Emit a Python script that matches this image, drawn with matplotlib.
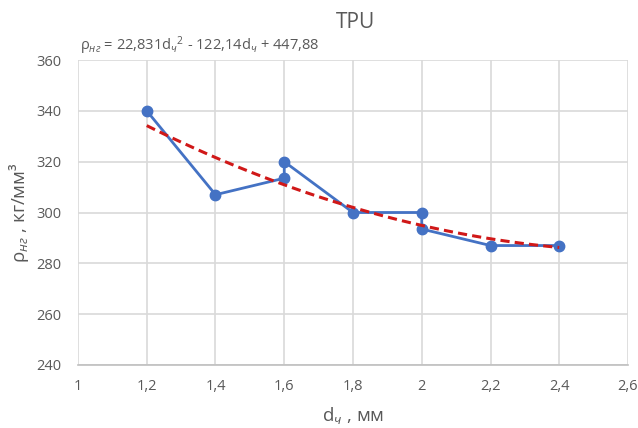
import matplotlib
matplotlib.use("Agg")
import matplotlib.pyplot as plt
import numpy as np

# data (path order as drawn)
d_vals = [1.2, 1.4, 1.6, 1.6, 1.8, 2.0, 2.0, 2.2, 2.4]
rho_vals = [340, 307, 313.5, 320, 300, 300, 293.5, 287, 287]
# trendline coefficients shown on chart
trend_coef = [22.831, -122.14, 447.88]
x_ticks = [1, 1.2, 1.4, 1.6, 1.8, 2, 2.2, 2.4, 2.6]
x_ticklabels = ["1", "1,2", "1,4", "1,6", "1,8", "2", "2,2", "2,4", "2,6"]
y_ticks = [240, 260, 280, 300, 320, 340, 360]

plt.rcParams['font.family'] = ['Open Sans', 'DejaVu Sans']
plt.rcParams['mathtext.fontset'] = 'custom'
plt.rcParams['mathtext.rm'] = 'Open Sans'
plt.rcParams['mathtext.it'] = 'Open Sans:italic'

txt = '#595959'
fig = plt.figure(figsize=(6.38, 4.28), dpi=100)
ax = fig.add_axes([78/638, 1-365/428, (628-78)/638, (365-60)/428])

ax.set_xlim(1, 2.6)
ax.set_ylim(240, 360)
ax.set_xticks(x_ticks)
ax.set_xticklabels(x_ticklabels)
ax.set_yticks(y_ticks)
ax.grid(True, color='#d9d9d9', linewidth=1.2)
ax.set_axisbelow(True)
for s in ['top', 'right', 'left']:
    ax.spines[s].set_visible(False)
ax.spines['bottom'].set_color('#bfbfbf')
ax.spines['bottom'].set_linewidth(1.2)
ax.tick_params(length=0, labelsize=10.5, colors=txt, pad=10)
ax.tick_params(axis='y', pad=12)

ax.plot(d_vals, rho_vals, color='#4472C4', linewidth=2.0, marker='o', markersize=7.5, zorder=3)
xt = np.linspace(min(d_vals), max(d_vals), 100)
ax.plot(xt, np.polyval(trend_coef, xt), color='#D01818', linewidth=2.2, linestyle=(0, (3, 1.7)), zorder=4)

fig.text(355/638, 1-22/428, 'TPU', ha='center', va='center', fontsize=15, color=txt)
fig.text(80/638, 1-46/428, r'ρ$_{\mathit{нг}}$ = 22,831d$_{\mathit{ч}}$$^{2}$ - 122,14d$_{\mathit{ч}}$ + 447,88',
         ha='left', va='center', fontsize=10.5, color=txt)
ax.set_xlabel(r'd$_{\mathit{ч}}$ , мм', fontsize=13.5, color=txt, labelpad=8)
ax.set_ylabel(r'ρ$_{\mathit{нг}}$ , кг/мм³', fontsize=13.5, color=txt, labelpad=4)

fig.savefig('out.png', dpi=100)
